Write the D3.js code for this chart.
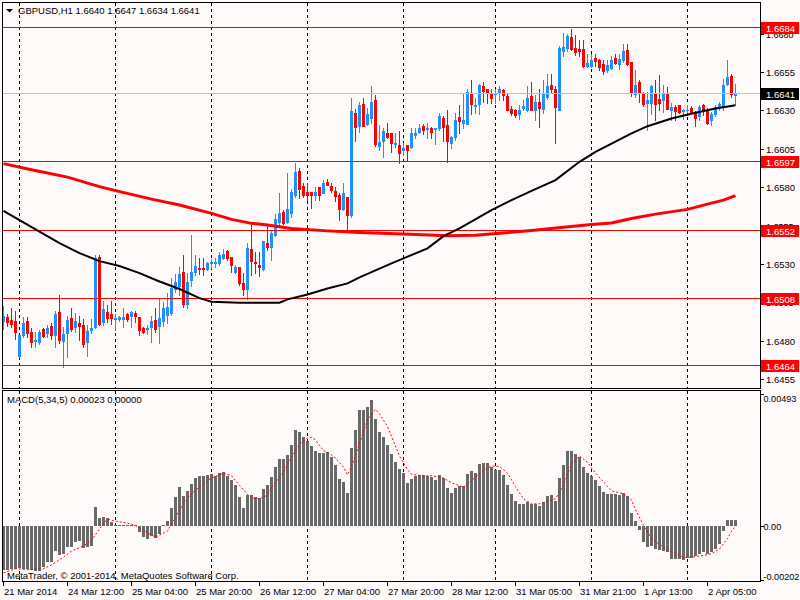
<!DOCTYPE html>
<html><head><meta charset="utf-8">
<script src="https://cdn.jsdelivr.net/npm/d3@7"></script>
<style>html,body{margin:0;padding:0;background:#fffafa;}svg{display:block;font-family:"Liberation Sans",Arial,sans-serif;}</style>
</head><body><svg id="c" width="800" height="600"></svg>
<script>
const chartTitle = "GBPUSD,H1  1.6640 1.6647 1.6634 1.6641";
const macdTitle = "MACD(5,34,5) 0.00023 0.00000";
const footerText = "MetaTrader, \u00a9 2001-2014, MetaQuotes Software Corp.";

const opens = [1.6493,1.64952,1.64934,1.6493,1.64702,1.64837,1.64928,1.64856,1.648,1.64793,
1.64873,1.64852,1.64895,1.64837,1.64986,1.648,1.64852,1.64945,1.64886,1.64913,
1.64902,1.64793,1.64869,1.64891,1.65347,1.64923,1.64988,1.64973,1.64943,1.64943,
1.64943,1.64973,1.6496,1.64978,1.64952,1.64884,1.64876,1.64886,1.64934,1.64895,
1.6493,1.64967,1.64982,1.65134,1.65156,1.65249,1.65038,1.65195,1.65249,1.65275,
1.65275,1.65264,1.65308,1.65308,1.65308,1.65336,1.65383,1.65347,1.65249,1.65277,
1.65177,1.65134,1.65394,1.65314,1.65292,1.65264,1.65433,1.65412,1.65488,1.65574,
1.6564,1.65574,1.65629,1.65748,1.65906,1.65807,1.6577,1.6577,1.65748,1.65798,
1.65763,1.65835,1.65807,1.65776,1.65748,1.65655,1.65737,1.65618,1.6628,1.66197,
1.66344,1.6621,1.66253,1.66366,1.66067,1.66101,1.6615,1.6615,1.6608,1.66073,
1.66045,1.66073,1.66062,1.66139,1.6616,1.66197,1.66178,1.66182,1.66178,1.66182,
1.66253,1.66203,1.66088,1.66127,1.66258,1.66219,1.66214,1.66405,1.66328,1.66344,
1.66457,1.66442,1.66409,1.66405,1.6642,1.66431,1.66392,1.66312,1.66305,1.66275,
1.66318,1.66305,1.66392,1.66301,1.66355,1.66312,1.66388,1.66464,1.66436,1.66305,
1.66687,1.66705,1.66779,1.66709,1.66703,1.66703,1.66588,1.66592,1.66644,1.66631,
1.66601,1.66566,1.66579,1.66644,1.66605,1.66627,1.66692,1.66614,1.66405,1.66485,
1.66414,1.66349,1.66349,1.6641,1.66377,1.66366,1.66414,1.66301,1.66323,1.66334,
1.66297,1.66301,1.66318,1.66284,1.66262,1.66334,1.66305,1.66236,1.66275,1.66323,
1.66327,1.66469,1.66522,1.6640];
const highs = [1.65025,1.64973,1.6501,1.64995,1.64837,1.64956,1.64952,1.6488,1.64858,1.64869,
1.64882,1.64899,1.64913,1.64995,1.65097,1.64886,1.6496,1.6501,1.64982,1.6496,
1.64939,1.64902,1.64939,1.65357,1.65357,1.65058,1.65032,1.65058,1.64973,1.6496,
1.6501,1.64978,1.64995,1.64993,1.64952,1.64886,1.64902,1.6496,1.6501,1.65075,
1.65054,1.65112,1.65205,1.65234,1.65281,1.65357,1.65238,1.65488,1.65357,1.65336,
1.65336,1.65314,1.65329,1.65336,1.65379,1.65394,1.6539,1.65347,1.65292,1.65277,
1.65238,1.65433,1.65568,1.65379,1.65379,1.6545,1.65559,1.6552,1.65624,1.65759,
1.6565,1.65889,1.65791,1.65959,1.65922,1.65828,1.65824,1.6577,1.65802,1.65802,
1.65846,1.6585,1.65824,1.65798,1.65759,1.65828,1.65737,1.66383,1.66312,1.66355,
1.66383,1.66318,1.66457,1.66399,1.66203,1.66188,1.66219,1.66154,1.6615,1.66167,
1.66088,1.66073,1.66182,1.66182,1.66214,1.66214,1.66219,1.66193,1.66188,1.6628,
1.66262,1.66305,1.66136,1.6628,1.66334,1.66414,1.66442,1.66496,1.66383,1.66475,
1.66485,1.66442,1.66442,1.66442,1.66457,1.66442,1.66405,1.66327,1.66312,1.66334,
1.66366,1.66457,1.66485,1.66399,1.66442,1.66496,1.6654,1.6654,1.66457,1.6672,
1.66805,1.668,1.66833,1.66789,1.66757,1.66757,1.6667,1.6667,1.6667,1.66637,
1.66627,1.66631,1.66653,1.6667,1.6667,1.66735,1.66735,1.66614,1.66561,1.66496,
1.6642,1.6642,1.66464,1.66496,1.66528,1.66464,1.66453,1.66349,1.66334,1.66334,
1.66312,1.66334,1.66327,1.66297,1.66334,1.66344,1.66318,1.6629,1.66334,1.66355,
1.66507,1.66631,1.66535,1.6647];
const lows = [1.64873,1.64895,1.64886,1.64811,1.64695,1.64826,1.64821,1.64761,1.64761,1.64778,
1.64826,1.64821,1.64808,1.64761,1.64782,1.6463,1.64695,1.64865,1.64858,1.64804,
1.64756,1.64702,1.64852,1.6488,1.64902,1.64902,1.64923,1.64906,1.64869,1.6493,
1.64886,1.6493,1.64886,1.64923,1.64837,1.64847,1.64843,1.64793,1.64858,1.64782,
1.64895,1.64913,1.64967,1.65119,1.65097,1.65021,1.65012,1.65156,1.65227,1.65234,
1.65227,1.65259,1.65271,1.65281,1.65292,1.65329,1.65325,1.65249,1.65242,1.65162,
1.65097,1.65069,1.65227,1.65238,1.6522,1.6526,1.6539,1.65325,1.65481,1.65553,
1.65563,1.65568,1.65607,1.65737,1.65726,1.65737,1.65715,1.65661,1.65715,1.65715,
1.65759,1.65811,1.6577,1.6571,1.65585,1.6565,1.6552,1.65607,1.66101,1.6616,
1.66197,1.66203,1.66219,1.66067,1.66041,1.65993,1.66123,1.6603,1.66063,1.65958,
1.66008,1.65971,1.66058,1.66118,1.6615,1.66145,1.66123,1.66118,1.66084,1.66171,
1.66101,1.65965,1.66054,1.6611,1.6615,1.66182,1.6621,1.66275,1.6628,1.66277,
1.66355,1.66349,1.66349,1.66349,1.66366,1.66366,1.66301,1.66269,1.66258,1.66247,
1.66305,1.66297,1.66301,1.66236,1.66193,1.6628,1.66377,1.6641,1.66088,1.66301,
1.66653,1.66687,1.66696,1.66659,1.66653,1.66584,1.66584,1.66584,1.66592,1.66561,
1.6654,1.6655,1.66572,1.66605,1.66572,1.66614,1.66594,1.66392,1.66384,1.66355,
1.66327,1.66175,1.66277,1.66236,1.66305,1.6629,1.66312,1.6624,1.66236,1.66284,
1.66247,1.66269,1.66284,1.66197,1.66236,1.66269,1.66214,1.66203,1.66262,1.66301,
1.66305,1.66464,1.66384,1.6634];
const closes = [1.6496,1.64923,1.64908,1.64858,1.64837,1.64917,1.64852,1.64793,1.64806,1.64854,
1.6483,1.64882,1.64837,1.64973,1.64804,1.64843,1.64934,1.64873,1.64928,1.64895,
1.64778,1.64865,1.64884,1.65336,1.64908,1.65004,1.64945,1.64945,1.64949,1.64952,
1.64952,1.64939,1.64988,1.64962,1.64869,1.64858,1.64882,1.6493,1.64873,1.64945,
1.65014,1.65021,1.65145,1.65184,1.65234,1.65038,1.65182,1.65249,1.65286,1.65264,
1.65264,1.65303,1.65314,1.65314,1.65357,1.65364,1.65336,1.65292,1.65277,1.65173,
1.65134,1.65401,1.6532,1.65303,1.65281,1.6545,1.65412,1.65503,1.65592,1.65629,
1.65568,1.65655,1.6577,1.659,1.65791,1.65748,1.65748,1.65748,1.6577,1.65748,
1.65828,1.65815,1.6578,1.65742,1.65655,1.65759,1.65618,1.66297,1.66193,1.66334,
1.66197,1.66275,1.66355,1.6608,1.66093,1.66167,1.66127,1.66088,1.66088,1.66023,
1.66058,1.66045,1.6615,1.66154,1.66188,1.66171,1.66186,1.6616,1.66184,1.66262,
1.66193,1.66101,1.66127,1.6624,1.66232,1.66236,1.6642,1.66344,1.66334,1.66464,
1.66427,1.6642,1.66383,1.66414,1.66442,1.66399,1.66301,1.6628,1.66269,1.66305,
1.66327,1.66383,1.66305,1.66355,1.66318,1.66405,1.66457,1.66436,1.66323,1.66709,
1.66713,1.66783,1.66703,1.66681,1.66687,1.66588,1.66609,1.66627,1.66622,1.66583,
1.66557,1.66594,1.66631,1.66609,1.66637,1.66687,1.66605,1.6642,1.66464,1.66414,
1.66344,1.66366,1.66457,1.66344,1.66349,1.6641,1.66312,1.66323,1.66297,1.6629,
1.66301,1.66305,1.6629,1.66253,1.66323,1.66301,1.66219,1.66275,1.66323,1.66344,
1.66464,1.66518,1.66405,1.6641];

const maBlackBars = [0,4,9,14,19,24,29,34,39,44,49,52,59,66,69,71,76,81,86,89,97,100,106,110,114,122,127,132,138,144,148,157,161,167,173,178,183];
const maBlackVals = [1.65646,1.65585,1.6551,1.65435,1.6537,1.65318,1.65286,1.6524,1.65185,1.65136,1.65077,1.65053,1.65047,1.65047,1.65047,1.65069,1.65101,1.6514,1.65173,1.65212,1.65303,1.65336,1.65401,1.65481,1.65531,1.6565,1.65715,1.65776,1.65846,1.65965,1.6603,1.6615,1.66197,1.66247,1.66284,1.66312,1.66334];
const maRedBars = [0,7,16,24,28,37,44,52,57,62,66,72,81,89,100,111,118,124,132,140,147,152,157,163,171,176,180,183];
const maRedVals = [1.65953,1.65913,1.65865,1.65803,1.65777,1.65722,1.65683,1.65629,1.6559,1.65564,1.65553,1.65531,1.65515,1.65505,1.65494,1.65483,1.65486,1.65499,1.65517,1.65538,1.65557,1.65566,1.65596,1.65624,1.65655,1.65689,1.65715,1.65745];

const macdHist = [-0.00158,-0.00158,-0.00154,-0.00154,-0.00152,-0.00154,-0.00154,-0.00157,-0.00161,-0.00161,
-0.00148,-0.0013,-0.00128,-0.00088,-0.00104,-0.001,-0.00076,-0.00076,-0.00058,-0.00052,
-0.0008,-0.00076,-0.0007,0.00069,0.00029,0.00035,0.00029,0.00015,0.00005,0.00003,
0.00003,0.00005,0.00005,0.00005,-0.00022,-0.0004,-0.00046,-0.00034,-0.00043,-0.00028,
0.00003,0.00017,0.00065,0.00105,0.00141,0.00111,0.00126,0.00151,0.00174,0.00181,
0.00181,0.00184,0.0019,0.00181,0.00193,0.00196,0.00181,0.00169,0.00148,0.00105,
0.00065,0.00114,0.00114,0.00105,0.00102,0.00135,0.00148,0.00178,0.00216,0.00244,
0.00244,0.00259,0.00295,0.0035,0.00341,0.00323,0.00307,0.00292,0.00274,0.00266,
0.00266,0.00268,0.0025,0.0022,0.00172,0.0016,0.00121,0.00283,0.00347,0.00419,
0.00419,0.00431,0.00456,0.00387,0.00341,0.00323,0.00295,0.00262,0.00234,0.00208,
0.00193,0.00157,0.00172,0.00181,0.00186,0.00186,0.00181,0.00178,0.00169,0.00184,
0.00174,0.00138,0.00121,0.00138,0.00145,0.00145,0.0019,0.00198,0.00193,0.00226,
0.0023,0.0023,0.00214,0.00205,0.00205,0.00186,0.0015,0.00117,0.0009,0.00079,
0.00079,0.00087,0.00081,0.00081,0.00073,0.00087,0.00108,0.00114,0.0009,0.00174,
0.00222,0.00271,0.00274,0.00262,0.0025,0.00214,0.00193,0.00181,0.00166,0.00145,
0.00123,0.00117,0.00117,0.00117,0.00114,0.00121,0.00109,0.00048,0.00017,-0.00013,
-0.00058,-0.00076,-0.0007,-0.00082,-0.00086,-0.00088,-0.00094,-0.00118,-0.00118,-0.00118,
-0.00124,-0.00116,-0.00116,-0.00109,-0.001,-0.00094,-0.001,-0.00094,-0.00082,-0.00064,
-0.00019,0.00024,0.00024,0.00023];

const signalBars = [0,3,7,10,12,15,17,20,22,24,26,28,31,33,36,38,41,42,45,47,50,52,55,57,59,61,62,64,66,67,70,72,74,76,77,78,80,82,83,85,86,87,89,91,93,94,96,97,99,101,102,105,107,110,112,115,117,120,122,124,126,128,130,132,134,137,138,140,142,144,146,147,150,152,155,157,158,160,162,165,167,170,172,175,177,179,181,182,183];
const signalVals = [-0.00169,-0.00154,-0.00157,-0.00154,-0.0014,-0.00112,-0.0009,-0.00072,-0.00052,-0.0001,0.00026,0.00018,0.00011,0.00003,-0.00024,-0.0004,-0.00018,0.0001,0.00081,0.00118,0.00154,0.00175,0.0019,0.00183,0.00148,0.00115,0.00102,0.00099,0.00112,0.0014,0.00196,0.0025,0.00297,0.0032,0.00322,0.00312,0.00274,0.00258,0.00246,0.00214,0.00186,0.00215,0.00298,0.00385,0.00423,0.00407,0.0036,0.00325,0.00254,0.00205,0.00188,0.00181,0.00183,0.00174,0.00157,0.00141,0.00165,0.00202,0.00218,0.00216,0.00192,0.00143,0.00099,0.00081,0.00081,0.00095,0.00099,0.00148,0.00225,0.00254,0.00232,0.0021,0.0016,0.00128,0.00117,0.00095,0.0006,0.00003,-0.00045,-0.00076,-0.00092,-0.00112,-0.00112,-0.00106,-0.001,-0.00082,-0.00045,-0.00018,0];

const levelLines = [1.6684, 1.6597, 1.6552, 1.6508, 1.6464];
const bidPrice = 1.6641;
const priceTicks = [1.6680, 1.6655, 1.6630, 1.6605, 1.6580, 1.6555, 1.6530, 1.6505, 1.6480, 1.6455];
const macdRange = [-0.00202, 0.00493];
const macdTickLabels = ["0.00493", "0.00", "-0.00202"];
const gridBars = [4, 28, 52, 76, 100, 123, 147, 171];
const dateBars = [0, 16, 32, 48, 64, 80, 96, 112, 128, 144, 160, 176];
const dateLabels = ["21 Mar 2014","24 Mar 12:00","25 Mar 04:00","25 Mar 20:00","26 Mar 12:00","27 Mar 04:00","27 Mar 20:00","28 Mar 12:00","31 Mar 05:00","31 Mar 21:00","1 Apr 13:00","2 Apr 05:00"];

// ---------- layout ----------
const L = 2, R = 760, PT = 2, PB = 388, MT = 390, MB = 581;
const BULL = "#1e90ff", BEAR = "#ff0000";
const svg = d3.select("#c");
svg.append("rect").attr("width", 800).attr("height", 600).attr("fill", "#fffafa");

const x = d3.scaleLinear().domain([0, 183]).range([3.5, 735.5]);
const y = d3.scaleLinear().domain([1.6455, 1.6655]).range([379, 72]);
const ym = d3.scaleLinear().domain(macdRange).range([MB + 1, MT]);
const px = v => Math.round(v) + 0.5;

const defs = svg.append("defs");
defs.append("clipPath").attr("id", "cp").append("rect").attr("x", L + 1).attr("y", PT + 1).attr("width", R - L - 1).attr("height", PB - PT - 1);
defs.append("clipPath").attr("id", "cm").append("rect").attr("x", L + 1).attr("y", MT + 1).attr("width", R - L - 1).attr("height", MB - MT - 1);
defs.append("clipPath").attr("id", "ca").append("rect").attr("x", R + 1).attr("y", 0).attr("width", 800 - R - 1).attr("height", 600);

// grid
const grid = svg.append("g").attr("stroke", "#000").attr("stroke-width", 1).attr("stroke-dasharray", "3,3");
gridBars.forEach(b => {
  grid.append("line").attr("x1", px(x(b) - 0.5)).attr("x2", px(x(b) - 0.5)).attr("y1", PT + 1).attr("y2", PB);
  grid.append("line").attr("x1", px(x(b) - 0.5)).attr("x2", px(x(b) - 0.5)).attr("y1", MT + 1).attr("y2", MB);
});

// price panel
const gp = svg.append("g").attr("clip-path", "url(#cp)");
const idx = d3.range(opens.length);
idx.forEach(i => {
  const o = opens[i], c = closes[i], col = c >= o ? BULL : BEAR;
  const cx = Math.round(x(i) - 0.5) + 0.5;
  gp.append("line").attr("x1", cx).attr("x2", cx).attr("y1", Math.round(y(highs[i]))).attr("y2", Math.round(y(lows[i])) + 1).attr("stroke", col).attr("stroke-width", 1);
  const yt = Math.round(y(Math.max(o, c))), yb = Math.round(y(Math.min(o, c)));
  gp.append("rect").attr("x", cx - 1.5).attr("width", 3).attr("y", yt).attr("height", Math.max(1, yb - yt + 1)).attr("fill", col);
});
levelLines.forEach(v => gp.append("line").attr("x1", L).attr("x2", R).attr("y1", px(y(v))).attr("y2", px(y(v))).attr("stroke", "#ff0000").attr("stroke-width", 1));
gp.append("line").attr("x1", L).attr("x2", R).attr("y1", px(y(bidPrice))).attr("y2", px(y(bidPrice))).attr("stroke", "#c0c0c0").attr("stroke-width", 1);
const maLine = d3.line().x(d => x(d[0])).y(d => y(d[1]));
gp.append("path").datum(maRedBars.map((b, k) => [b, maRedVals[k]])).attr("d", maLine).attr("fill", "none").attr("stroke", "#ff0000").attr("stroke-width", 3);
gp.append("path").datum(maBlackBars.map((b, k) => [b, maBlackVals[k]])).attr("d", maLine).attr("fill", "none").attr("stroke", "#000").attr("stroke-width", 2);

// MACD panel
const gm = svg.append("g").attr("clip-path", "url(#cm)");
const y0 = Math.round(ym(0));
idx.forEach(i => {
  const v = macdHist[i];
  const yv = Math.round(ym(v));
  const cx = Math.round(x(i) - 0.5) + 0.5;
  gm.append("rect").attr("x", cx - 1.5).attr("width", 3)
    .attr("y", Math.min(yv, y0)).attr("height", Math.max(1, Math.abs(yv - y0)))
    .attr("fill", "#696969");
});
const sigLine = d3.line().x(d => x(d[0])).y(d => ym(d[1]));
gm.append("path").datum(signalBars.map((b, k) => [b, signalVals[k]])).attr("d", sigLine).attr("fill", "none").attr("stroke", "#ff0000").attr("stroke-width", 1).attr("stroke-dasharray", "2,2");

// frames
const fr = svg.append("g").attr("stroke", "#000").attr("stroke-width", 1).attr("fill", "none");
fr.append("rect").attr("x", L + 0.5).attr("y", PT + 0.5).attr("width", R - L).attr("height", PB - PT);
fr.append("rect").attr("x", L + 0.5).attr("y", MT + 0.5).attr("width", R - L).attr("height", MB - MT);

// right price axis (labels under the level boxes are clipped so only the uncovered part shows)
const ax = svg.append("g").attr("font-size", 9.5).attr("fill", "#000");
const boxTop = v => Math.round(y(v)) - 5;
priceTicks.forEach(v => {
  const yy = px(y(v));
  ax.append("line").attr("x1", R + 1).attr("x2", R + 4).attr("y1", yy).attr("y2", yy).attr("stroke", "#000");
  const near = levelLines.find(l => Math.abs(y(l) - y(v)) < 12);
  if (near === undefined) {
    ax.append("text").attr("x", 766).attr("y", yy + 3.5).text(v.toFixed(4));
  } else {
    // visible sliver of a tick label partly hidden behind a level box
    const bt = boxTop(near), bb = bt + 12;
    const ty = yy - 4, tb = yy + 4;
    const top = ty < bt ? [ty, bt] : [bb, tb];
    const cid = "cl" + Math.round(v * 10000);
    defs.append("clipPath").attr("id", cid).append("rect").attr("x", R + 1).attr("y", top[0]).attr("width", 40).attr("height", Math.max(0, top[1] - top[0]));
    ax.append("text").attr("x", 766).attr("y", yy + 3.5).attr("clip-path", `url(#${cid})`).attr("font-size", 9).text(v.toFixed(4));
  }
});
levelLines.forEach(v => {
  const bt = boxTop(v);
  ax.append("rect").attr("x", R + 1).attr("y", bt).attr("width", 38).attr("height", 12).attr("fill", "#ff0000");
  ax.append("text").attr("x", 766).attr("y", bt + 9.5).attr("fill", "#fff").text(v.toFixed(4));
});
{
  const bt = boxTop(bidPrice);
  ax.append("rect").attr("x", R + 1).attr("y", bt).attr("width", 38).attr("height", 12).attr("fill", "#000");
  ax.append("text").attr("x", 766).attr("y", bt + 9.5).attr("fill", "#fff").text(bidPrice.toFixed(4));
}
// MACD axis
const macdTickVals = [macdRange[1], 0, macdRange[0]];
const macdTextY = [ym(macdRange[1]) + 8, ym(0), ym(macdRange[0]) - 6];
macdTickVals.forEach((v, k) => {
  const yy = px(macdTextY[k]);
  const ty = px(ym(v) + (k === 0 ? 4 : k === 2 ? -2 : 0));
  ax.append("line").attr("x1", R + 1).attr("x2", R + 4).attr("y1", ty).attr("y2", ty).attr("stroke", "#000");
  ax.append("text").attr("x", 763.5).attr("y", yy + 3.5).attr("font-size", 9.1).text(macdTickLabels[k]);
});

// date axis
dateBars.forEach((b, k) => {
  const xx = Math.round(x(b) - 0.5) + 0.5;
  ax.append("line").attr("x1", xx).attr("x2", xx).attr("y1", MB + 1).attr("y2", MB + 5).attr("stroke", "#000");
  ax.append("text").attr("x", xx + 0.5).attr("y", 595).text(dateLabels[k]);
});

// titles
svg.append("path").attr("d", "M6,9 L13,9 L9.5,12.5 Z").attr("fill", "#000");
svg.append("text").attr("x", 18).attr("y", 14).attr("font-size", 9.5).attr("fill", "#000").text(chartTitle);
svg.append("text").attr("x", 7).attr("y", 402.5).attr("font-size", 9.5).attr("fill", "#000").text(macdTitle);
svg.append("text").attr("x", 7).attr("y", 578.5).attr("font-size", 9.5).attr("fill", "#000").text(footerText);
</script></body></html>
